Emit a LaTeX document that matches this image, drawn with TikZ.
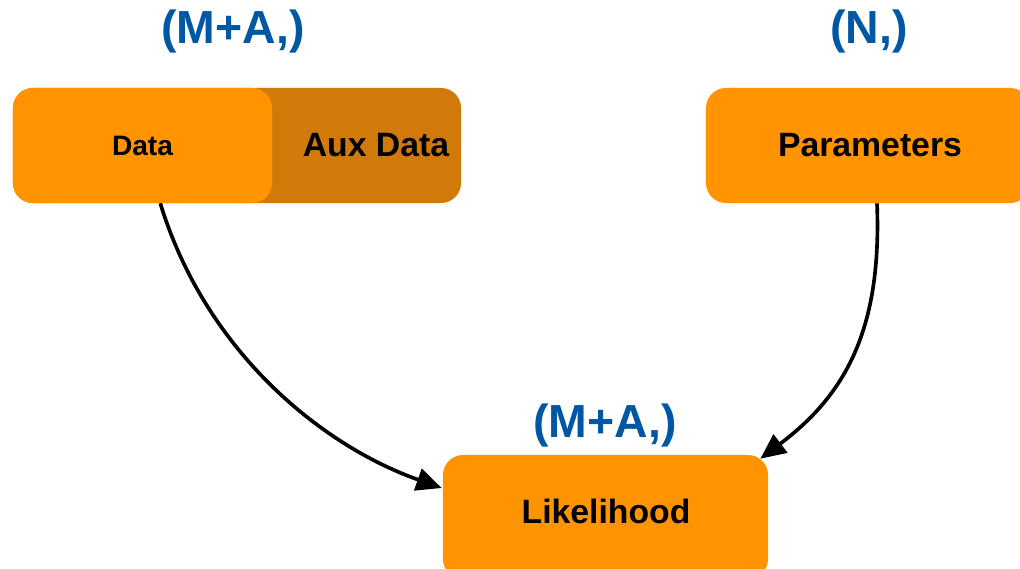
\documentclass[tikz,border=0pt]{standalone}
\usepackage{fontspec}
\setmainfont{Liberation Sans}
\usetikzlibrary{arrows.meta}
\definecolor{boxorange}{HTML}{FF9400}
\definecolor{auxorange}{HTML}{D17A0A}
\definecolor{shapeblue}{HTML}{0057A4}
\tikzset{
  px/.style={x=0.025cm,y=-0.025cm},
  block/.style={rounded corners=0.5cm, inner sep=0pt, draw=none},
  blocktext/.style={font=\bfseries\fontsize{24}{28}\selectfont, text=black, inner sep=0pt},
  shapetag/.style={font=\bfseries\fontsize{33}{38}\selectfont, text=shapeblue, inner sep=0pt},
  flow/.style={line width=2.6pt, -{Triangle[length=18pt,width=16pt]}}
}
\begin{document}
\begin{tikzpicture}[px]
\clip (0,0) rectangle (1020,568);
\fill[white] (0,0) rectangle (1020,568);

% input data with its auxiliary part behind it
\node[block, fill=auxorange, minimum width=11.2cm, minimum height=2.875cm] (aux) at (237,145.5) {};
\node[block, fill=boxorange, minimum width=6.475cm, minimum height=2.875cm,
      font=\bfseries\fontsize{20}{24}\selectfont] (data) at (142.5,145.5) {Data};
\node[blocktext] (auxlabel) at (376,145) {Aux Data};

% parameters
\node[block, fill=boxorange, minimum width=8.1cm, minimum height=2.875cm] (params) at (868,145.5) {};
\node[blocktext] (paramlabel) at (870,145) {Parameters};

% likelihood
\node[block, fill=boxorange, minimum width=8.125cm, minimum height=3.1cm] (lik) at (605.5,517) {};
\node[blocktext] (liklabel) at (606,511) {Likelihood};

% shape annotations
\node[shapetag] (tagdata) at (233,31) {(M+A,)};
\node[shapetag] (tagparams) at (869,31) {(N,)};
\node[shapetag] (taglik) at (605,425) {(M+A,)};

% connector end points near the box borders
\path (data.south east) ++(-112,0) coordinate (dstart);
\path (params.south) ++(9,0) coordinate (pstart);
\path (lik.west |- 0,488) ++(-1,0) coordinate (lend);
\path (lik.north east) ++(-8,4) coordinate (pend);

% connectors
\draw[flow] (dstart) .. controls (205,350) and (320,445) .. (lend);
\draw[flow] (pstart) .. controls (882,330) and (845,395) .. (pend);
\end{tikzpicture}
\end{document}
